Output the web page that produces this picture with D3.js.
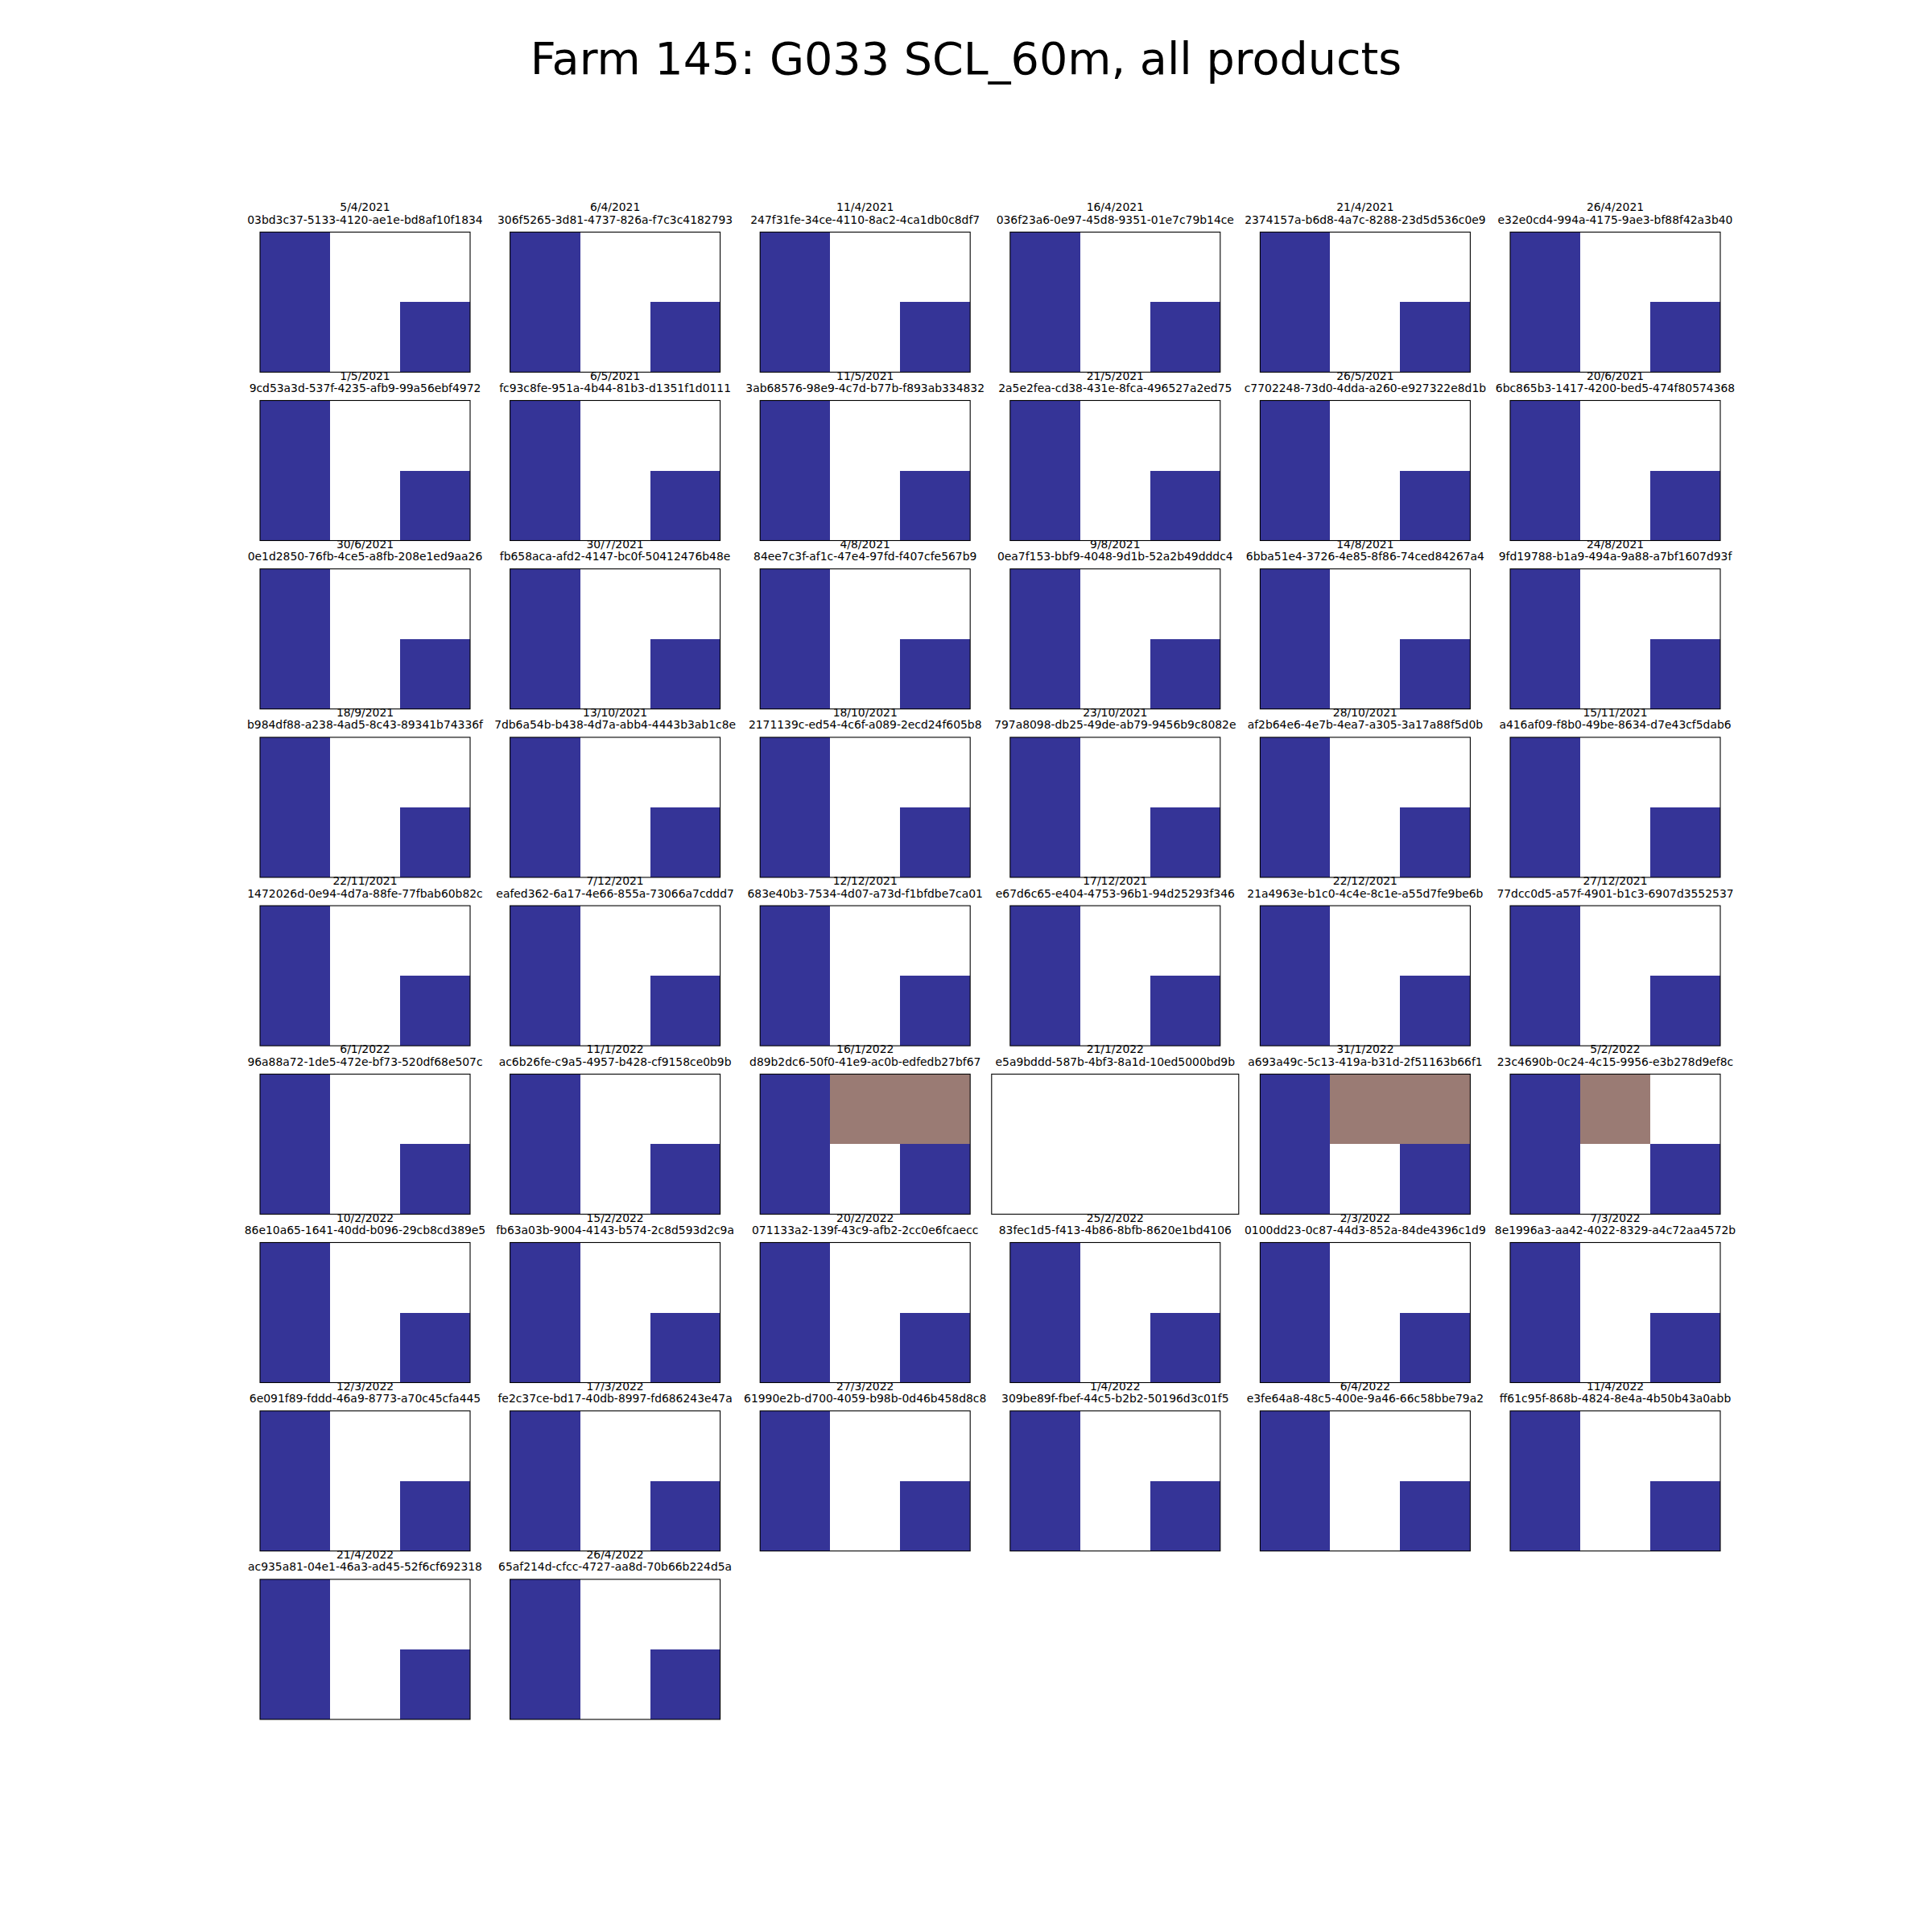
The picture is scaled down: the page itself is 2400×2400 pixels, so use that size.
<!DOCTYPE html>
<html>
<head>
<meta charset="utf-8">
<script src="https://cdn.jsdelivr.net/npm/d3@7"></script>
<style>
  html, body { margin: 0; padding: 0; background: #ffffff; }
  svg { display: block; }
</style>
</head>
<body>
<script>
// ---------------- DATA ----------------
const chartTitle = "Farm 145: G033 SCL_60m, all products";

const dates = [
  "5/4/2021","6/4/2021","11/4/2021","16/4/2021","21/4/2021","26/4/2021",
  "1/5/2021","6/5/2021","11/5/2021","21/5/2021","26/5/2021","20/6/2021",
  "30/6/2021","30/7/2021","4/8/2021","9/8/2021","14/8/2021","24/8/2021",
  "18/9/2021","13/10/2021","18/10/2021","23/10/2021","28/10/2021","15/11/2021",
  "22/11/2021","7/12/2021","12/12/2021","17/12/2021","22/12/2021","27/12/2021",
  "6/1/2022","11/1/2022","16/1/2022","21/1/2022","31/1/2022","5/2/2022",
  "10/2/2022","15/2/2022","20/2/2022","25/2/2022","2/3/2022","7/3/2022",
  "12/3/2022","17/3/2022","27/3/2022","1/4/2022","6/4/2022","11/4/2022",
  "21/4/2022","26/4/2022"
];

const productIds = [
  "03bd3c37-5133-4120-ae1e-bd8af10f1834","306f5265-3d81-4737-826a-f7c3c4182793",
  "247f31fe-34ce-4110-8ac2-4ca1db0c8df7","036f23a6-0e97-45d8-9351-01e7c79b14ce",
  "2374157a-b6d8-4a7c-8288-23d5d536c0e9","e32e0cd4-994a-4175-9ae3-bf88f42a3b40",
  "9cd53a3d-537f-4235-afb9-99a56ebf4972","fc93c8fe-951a-4b44-81b3-d1351f1d0111",
  "3ab68576-98e9-4c7d-b77b-f893ab334832","2a5e2fea-cd38-431e-8fca-496527a2ed75",
  "c7702248-73d0-4dda-a260-e927322e8d1b","6bc865b3-1417-4200-bed5-474f80574368",
  "0e1d2850-76fb-4ce5-a8fb-208e1ed9aa26","fb658aca-afd2-4147-bc0f-50412476b48e",
  "84ee7c3f-af1c-47e4-97fd-f407cfe567b9","0ea7f153-bbf9-4048-9d1b-52a2b49dddc4",
  "6bba51e4-3726-4e85-8f86-74ced84267a4","9fd19788-b1a9-494a-9a88-a7bf1607d93f",
  "b984df88-a238-4ad5-8c43-89341b74336f","7db6a54b-b438-4d7a-abb4-4443b3ab1c8e",
  "2171139c-ed54-4c6f-a089-2ecd24f605b8","797a8098-db25-49de-ab79-9456b9c8082e",
  "af2b64e6-4e7b-4ea7-a305-3a17a88f5d0b","a416af09-f8b0-49be-8634-d7e43cf5dab6",
  "1472026d-0e94-4d7a-88fe-77fbab60b82c","eafed362-6a17-4e66-855a-73066a7cddd7",
  "683e40b3-7534-4d07-a73d-f1bfdbe7ca01","e67d6c65-e404-4753-96b1-94d25293f346",
  "21a4963e-b1c0-4c4e-8c1e-a55d7fe9be6b","77dcc0d5-a57f-4901-b1c3-6907d3552537",
  "96a88a72-1de5-472e-bf73-520df68e507c","ac6b26fe-c9a5-4957-b428-cf9158ce0b9b",
  "d89b2dc6-50f0-41e9-ac0b-edfedb27bf67","e5a9bddd-587b-4bf3-8a1d-10ed5000bd9b",
  "a693a49c-5c13-419a-b31d-2f51163b66f1","23c4690b-0c24-4c15-9956-e3b278d9ef8c",
  "86e10a65-1641-40dd-b096-29cb8cd389e5","fb63a03b-9004-4143-b574-2c8d593d2c9a",
  "071133a2-139f-43c9-afb2-2cc0e6fcaecc","83fec1d5-f413-4b86-8bfb-8620e1bd4106",
  "0100dd23-0c87-44d3-852a-84de4396c1d9","8e1996a3-aa42-4022-8329-a4c72aa4572b",
  "6e091f89-fddd-46a9-8773-a70c45cfa445","fe2c37ce-bd17-40db-8997-fd686243e47a",
  "61990e2b-d700-4059-b98b-0d46b458d8c8","309be89f-fbef-44c5-b2b2-50196d3c01f5",
  "e3fe64a8-48c5-400e-9a46-66c58bbe79a2","ff61c95f-868b-4824-8e4a-4b50b43a0abb",
  "ac935a81-04e1-46a3-ad45-52f6cf692318","65af214d-cfcc-4727-aa8d-70b66b224d5a"
];

// SCL class codes per 2x3 pixel grid (row-major); null = no data (NaN)
const gridNormal  = [[6, null, null], [6, null, 6]];
const gridShadowA = [[6, 3, 3],       [6, null, 6]];
const gridShadowB = [[6, 3, null],    [6, null, 6]];
const gridEmpty   = null;

const sclGrids = [
  gridNormal, gridNormal, gridNormal, gridNormal, gridNormal, gridNormal,
  gridNormal, gridNormal, gridNormal, gridNormal, gridNormal, gridNormal,
  gridNormal, gridNormal, gridNormal, gridNormal, gridNormal, gridNormal,
  gridNormal, gridNormal, gridNormal, gridNormal, gridNormal, gridNormal,
  gridNormal, gridNormal, gridNormal, gridNormal, gridNormal, gridNormal,
  gridNormal, gridNormal, gridShadowA, gridEmpty, gridShadowA, gridShadowB,
  gridNormal, gridNormal, gridNormal, gridNormal, gridNormal, gridNormal,
  gridNormal, gridNormal, gridNormal, gridNormal, gridNormal, gridNormal,
  gridNormal, gridNormal
];

const classCodes  = [3, 6];
const classColors = ["#9a7b74", "#353497"];

// ---------------- LAYOUT ----------------
const W = 2400, H = 2400;
const nCols = 6;
const gridLeft = 300, gridTop = 288.3;
const cellW = 307, colStep = 310.6;
const panelH = 174, rowStep = 209.2;
const panelW = 261;   // equal-aspect image width (3:2)
const font = "'DejaVu Sans', 'Liberation Sans', sans-serif";

const color = d3.scaleOrdinal().domain(classCodes).range(classColors);

const svg = d3.select("body").append("svg")
  .attr("width", W).attr("height", H)
  .attr("viewBox", `0 0 ${W} ${H}`);

svg.append("rect").attr("width", W).attr("height", H).attr("fill", "#ffffff");

svg.append("text")
  .attr("x", W / 2).attr("y", 92)
  .attr("text-anchor", "middle")
  .attr("font-family", font)
  .attr("font-size", 55.6)
  .attr("fill", "#000")
  .text(chartTitle);

dates.forEach((date, i) => {
  const col = i % nCols, row = Math.floor(i / nCols);
  const cx = gridLeft + col * colStep + cellW / 2;
  const y0 = gridTop + row * rowStep;
  const grid = sclGrids[i];
  const pw = grid ? panelW : cellW;
  const x0 = cx - pw / 2;

  const g = svg.append("g");

  if (grid) {
    const nR = grid.length, nC = grid[0].length;
    const x = d3.scaleLinear().domain([-0.5, nC - 0.5]).range([x0, x0 + pw]);
    const y = d3.scaleLinear().domain([-0.5, nR - 0.5]).range([y0, y0 + panelH]);
    const cells = [];
    grid.forEach((r, ri) => r.forEach((v, ci) => { if (v !== null) cells.push({ r: ri, c: ci, v }); }));
    g.selectAll("rect.cell").data(cells).enter().append("rect")
      .attr("class", "cell")
      .attr("x", d => x(d.c - 0.5))
      .attr("y", d => y(d.r - 0.5))
      .attr("width", d => x(d.c + 0.5) - x(d.c - 0.5))
      .attr("height", d => y(d.r + 0.5) - y(d.r - 0.5))
      .attr("fill", d => color(d.v))
      .attr("shape-rendering", "crispEdges");
  }

  g.append("rect")
    .attr("x", x0).attr("y", y0)
    .attr("width", pw).attr("height", panelH)
    .attr("fill", "none")
    .attr("stroke", "#000")
    .attr("stroke-width", 1.1);

  const t = g.append("text")
    .attr("text-anchor", "middle")
    .attr("font-family", font)
    .attr("font-size", 13.9)
    .attr("fill", "#000");
  t.append("tspan").attr("x", cx).attr("y", y0 - 26).text(date);
  t.append("tspan").attr("x", cx).attr("y", y0 - 10.6).text(productIds[i]);
});
</script>
</body>
</html>
